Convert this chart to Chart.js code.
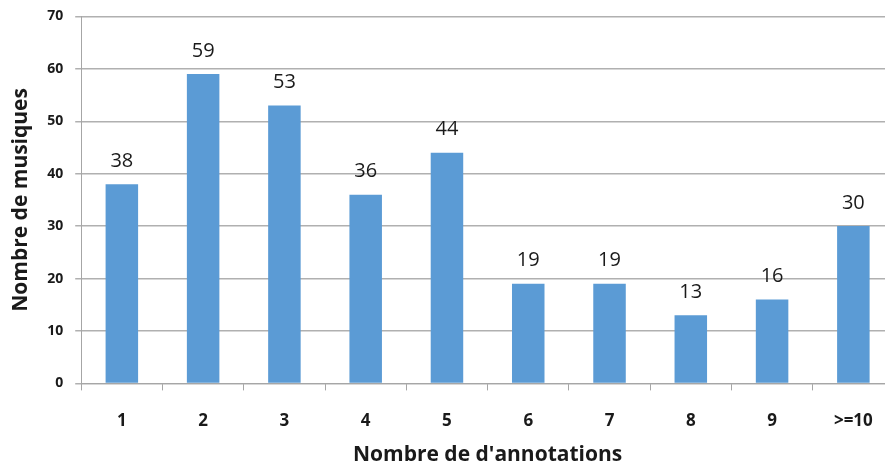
<!DOCTYPE html>
<html><head><meta charset="utf-8">
<script src="https://cdn.jsdelivr.net/npm/chart.js@4/dist/chart.umd.min.js"></script>
<style>
html,body{margin:0;padding:0;background:#fff;overflow:hidden;width:885px;height:468px;}
#wrap{position:absolute;left:0;top:-4px;width:900px;height:472px;}
</style></head>
<body><div id="wrap"><canvas id="c"></canvas></div>
<script>
const categories = ['1','2','3','4','5','6','7','8','9','>=10'];
const values = [38,59,53,36,44,19,19,13,16,30];
const yTicks = [0,10,20,30,40,50,60,70];

const labelPlugin = {
  id:'lbl',
  afterDatasetsDraw(chart){
    const ctx = chart.ctx;
    const meta = chart.getDatasetMeta(0);
    ctx.save();
    ctx.font = '20px "Open Sans", sans-serif';
    ctx.fillStyle = '#1a1a1a';
    ctx.textAlign = 'center';
    ctx.textBaseline = 'middle';
    meta.data.forEach((el,i)=>{
      ctx.fillText(String(values[i]), el.x, el.y - 23);
    });
    ctx.restore();
  }
};

new Chart(document.getElementById('c'), {
  type:'bar',
  data:{labels:categories, datasets:[{data:values, backgroundColor:'#5B9BD5', barPercentage:0.4, categoryPercentage:1.0}]},
  options:{
    responsive:true, maintainAspectRatio:false, animation:false,
    layout:{padding:{top:11, right:6, left:8, bottom:0}},
    plugins:{legend:{display:false}, tooltip:{enabled:false}},
    scales:{
      x:{
        grid:{offset:true, drawOnChartArea:false, drawTicks:true, tickLength:7, color:'#A6A6A6'},
        border:{color:'#A6A6A6', width:1},
        ticks:{color:'#1a1a1a', font:{family:'"Open Sans", sans-serif', size:17, weight:'bold'}, padding:21},
        title:{display:true, text:"Nombre de d'annotations", color:'#1a1a1a', font:{family:'"Open Sans", sans-serif', size:21, weight:'bold'}, padding:{top:-10,bottom:0}}
      },
      y:{
        min:0, max:70,
        afterBuildTicks(s){ s.ticks = yTicks.map(v=>({value:v})); },
        grid:{color:'#B0B0B0', drawTicks:true, tickLength:6, lineWidth:1.5},
        border:{color:'#A6A6A6', width:1},
        ticks:{color:'#1a1a1a', font:{family:'"Open Sans", sans-serif', size:14, weight:'bold'}, padding:12},
        title:{display:true, text:'Nombre de musiques', color:'#1a1a1a', font:{family:'"Open Sans", sans-serif', size:21, weight:'bold'}, padding:{top:0,bottom:2}}
      }
    }
  },
  plugins:[labelPlugin]
});
</script></body></html>
